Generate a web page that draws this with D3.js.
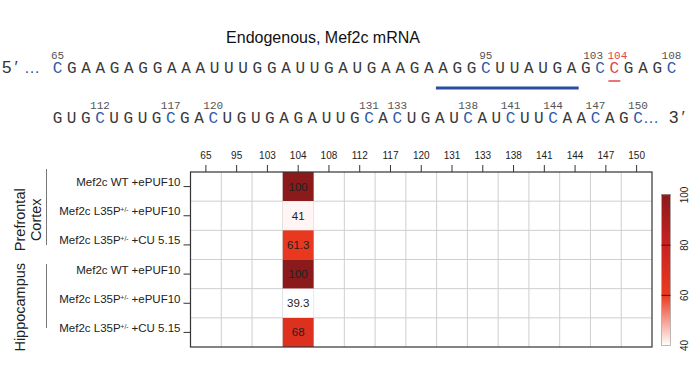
<!DOCTYPE html>
<html>
<head>
<meta charset="utf-8">
<script src="https://cdn.jsdelivr.net/npm/d3@7"></script>
<style>
  body { margin: 0; background: #fff; }
  text { font-family: "Liberation Sans", Arial, sans-serif; }
  .mono { font-family: "Liberation Mono", "Courier New", monospace; }
</style>
</head>
<body>
<div id="chart"></div>
<script>
// sequence data
var seqLine1 = "CGAAGAGGAAAUUUGGAUUGAUGAAGAAGGCUUAUGAGCCGAGC"  // starts at 65
var seqLine2 = "GUGCUGUGCGACUGUGAGAUUGCACUGAUCAUCUUCAACAGC"    // starts at 109
var seqStart1 = 65, seqStart2 = 109
var seedRange = [92, 101]
var redPos = 104

// heatmap data
var positions = [65, 95, 103, 104, 108, 112, 117, 120, 131, 133, 138, 141, 144, 147, 150]
var rowLabels = ["Mef2c WT +ePUF10", "Mef2c L35P+/- +ePUF10", "Mef2c L35P+/- +CU 5.15",
                 "Mef2c WT +ePUF10", "Mef2c L35P+/- +ePUF10", "Mef2c L35P+/- +CU 5.15"]
var values104 = [100, 41, 61.3, 100, 39.3, 68]
var groups = [["Prefrontal", "Cortex"], ["Hippocampus"]]
var legendTicks = [40, 60, 80, 100]

var W = 700, H = 383
var svg = d3.select("#chart").append("svg")
    .attr("width", W).attr("height", H)

// title
svg.append("text")
    .attr("x", 323).attr("y", 43)
    .attr("text-anchor", "middle")
    .style("font-size", "16px").style("fill", "#111")
    .text("Endogenous, Mef2c mRNA")

// sequence lines
function drawSeq(seq, start, x0, x1, baseline) {
    var end = start + seq.length - 1
    var sx = d3.scaleLinear().domain([start, end]).range([x0, x1])
    var g = svg.append("g")
    seq.split("").forEach(function (ch, i) {
        var p = start + i
        var col = "#3a3a3a"
        if (p === redPos) col = "#e0474c"
        else if (positions.indexOf(p) >= 0) col = "#2f5aa8"
        g.append("text").attr("class", "mono")
            .attr("x", sx(p)).attr("y", baseline)
            .attr("text-anchor", "middle")
            .style("font-size", "16px").style("fill", col)
            .text(ch)
    })
    // position numbers
    positions.filter(function (p) { return p >= start && p <= end }).forEach(function (p) {
        var off = 0
        if (positions.indexOf(p + 1) >= 0) off = -7
        if (positions.indexOf(p - 1) >= 0) off = 3
        g.append("text").attr("class", "mono")
            .attr("x", sx(p) + off).attr("y", baseline - 14)
            .attr("text-anchor", "middle")
            .style("font-size", "11px")
            .style("fill", p === redPos ? "#e0474c" : "#555")
            .text(p)
    })
    return sx
}

var sx1 = drawSeq(seqLine1, seqStart1, 57.5, 671.5, 73)
var sx2 = drawSeq(seqLine2, seqStart2, 57.5, 638, 123)

// 5' and 3' ends
svg.append("text").attr("x", 2).attr("y", 73)
    .style("font-size", "17px").style("fill", "#333").style("letter-spacing", "3px")
    .text("5\u2032")
svg.append("text").attr("x", 24).attr("y", 73)
    .style("font-size", "16px").style("fill", "#2f5aa8")
    .text("\u2026")
svg.append("text").attr("x", 643).attr("y", 123)
    .style("font-size", "16px").style("fill", "#2f5aa8")
    .text("\u2026")
svg.append("text").attr("x", 669).attr("y", 123)
    .style("font-size", "17px").style("fill", "#333").style("letter-spacing", "3px")
    .text("3\u2032")

// underlines
var pitch = sx1(66) - sx1(65)
svg.append("line")
    .attr("x1", sx1(seedRange[0]) - pitch / 2).attr("x2", sx1(seedRange[1]) + pitch / 2)
    .attr("y1", 88).attr("y2", 88)
    .attr("stroke", "#2b4ea2").attr("stroke-width", 3)
svg.append("line")
    .attr("x1", sx1(redPos) - 6).attr("x2", sx1(redPos) + 6)
    .attr("y1", 81).attr("y2", 81)
    .attr("stroke", "#e0474c").attr("stroke-width", 1.5)

// heatmap
var hmLeft = 190.5, hmRight = 652, hmTop = 172, hmBottom = 347
var x = d3.scaleBand().domain(positions).range([hmLeft, hmRight])
var y = d3.scaleBand().domain(d3.range(rowLabels.length)).range([hmTop, hmBottom])

var color = d3.scaleLinear()
    .domain([40, 60, 80, 100])
    .range(["#ffffff", "#ea3a1f", "#c92220", "#8b1a1c"])
    .clamp(true)

var cells = []
values104.forEach(function (v, i) { cells.push({ row: i, pos: 104, value: v }) })

// grid
var grid = svg.append("g")
positions.forEach(function (p, i) {
    if (i === 0) return
    grid.append("line")
        .attr("x1", x(p)).attr("x2", x(p)).attr("y1", hmTop).attr("y2", hmBottom)
        .attr("stroke", "#cfcfcf").attr("stroke-width", 1)
})
d3.range(1, rowLabels.length).forEach(function (r) {
    grid.append("line")
        .attr("x1", hmLeft).attr("x2", hmRight).attr("y1", y(r)).attr("y2", y(r))
        .attr("stroke", "#cfcfcf").attr("stroke-width", 1)
})

svg.append("g").selectAll("rect")
    .data(cells)
    .join("rect")
    .attr("x", d => x(d.pos))
    .attr("y", d => y(d.row))
    .attr("width", x.bandwidth())
    .attr("height", y.bandwidth())
    .attr("fill", d => color(d.value))

svg.append("g").selectAll("text")
    .data(cells)
    .join("text")
    .attr("x", d => x(d.pos) + x.bandwidth() / 2)
    .attr("y", d => y(d.row) + y.bandwidth() / 2)
    .attr("dy", "0.35em")
    .attr("text-anchor", "middle")
    .style("font-size", "11.5px")
    .style("fill", "#222")
    .text(d => d.value)

svg.append("rect")
    .attr("x", hmLeft).attr("y", hmTop)
    .attr("width", hmRight - hmLeft).attr("height", hmBottom - hmTop)
    .attr("fill", "none").attr("stroke", "#333").attr("stroke-width", 1.2)

// top axis
var xAxis = svg.append("g")
    .attr("transform", "translate(0," + hmTop + ")")
    .call(d3.axisTop(x).tickSize(7).tickPadding(6))
xAxis.select(".domain").remove()
xAxis.selectAll("line").attr("stroke", "#333")
xAxis.selectAll("text")
    .style("font-family", "'Liberation Sans', Arial, sans-serif")
    .style("font-size", "10px").style("fill", "#222")

// left axis with row labels
var yAxis = svg.append("g")
    .attr("transform", "translate(" + hmLeft + ",0)")
    .call(d3.axisLeft(y).tickSize(7).tickPadding(3).tickFormat(""))
yAxis.select(".domain").remove()
yAxis.selectAll("line").attr("stroke", "#333")
yAxis.selectAll(".tick text").each(function (i) {
    var t = d3.select(this)
        .attr("dy", "-0.05em")
        .style("font-family", "'Liberation Sans', Arial, sans-serif")
        .style("font-size", "11.5px").style("fill", "#222")
    var parts = rowLabels[i].split("+/-")
    t.append("tspan").text(parts[0])
    if (parts.length > 1) {
        t.append("tspan").attr("baseline-shift", "super").style("font-size", "6.5px").text("+/-")
        t.append("tspan").text(parts[1])
    }
})

// group labels
var groupRows = [[0, 2], [3, 5]]
groups.forEach(function (lines, gi) {
    var r = groupRows[gi]
    var cy = (y(r[0]) + y(r[1]) + y.bandwidth()) / 2 + 4
    var t = svg.append("text")
        .attr("transform", "translate(25," + cy + ") rotate(-90)")
        .attr("text-anchor", "middle")
        .style("font-size", "14.5px").style("fill", "#222")
    lines.forEach(function (l, li) {
        t.append("tspan").attr("x", 0).attr("dy", li === 0 ? 0 : "1.1em").text(l)
    })
})
svg.append("line").attr("x1", 46.5).attr("x2", 46.5).attr("y1", 169).attr("y2", 245)
    .attr("stroke", "#777").attr("stroke-width", 1)
svg.append("line").attr("x1", 46.5).attr("x2", 46.5).attr("y1", 264).attr("y2", 328)
    .attr("stroke", "#777").attr("stroke-width", 1)

// colour legend
var lx = 661.5, lw = 9
var ly = d3.scaleLinear().domain([40, 100]).range([345.5, 195])
var grad = svg.append("defs").append("linearGradient")
    .attr("id", "lg").attr("x1", 0).attr("x2", 0).attr("y1", 1).attr("y2", 0)
d3.range(40, 101, 5).forEach(function (v) {
    grad.append("stop").attr("offset", (v - 40) / 60).attr("stop-color", color(v))
})
svg.append("rect")
    .attr("x", lx).attr("y", ly(100)).attr("width", lw).attr("height", ly(40) - ly(100))
    .attr("fill", "url(#lg)").attr("stroke", "#aaa").attr("stroke-width", 0.8)
legendTicks.filter(v => v > 40).forEach(function (v) {
    svg.append("line")
        .attr("x1", lx).attr("x2", lx + lw).attr("y1", ly(v)).attr("y2", ly(v))
        .attr("stroke", "#5a0d0d").attr("stroke-width", 1)
})
svg.append("g").selectAll("text")
    .data(legendTicks)
    .join("text")
    .attr("transform", d => "translate(688," + ly(d) + ") rotate(-90)")
    .attr("text-anchor", "middle")
    .style("font-size", "10px").style("fill", "#222")
    .text(d => d)
</script>
</body>
</html>
